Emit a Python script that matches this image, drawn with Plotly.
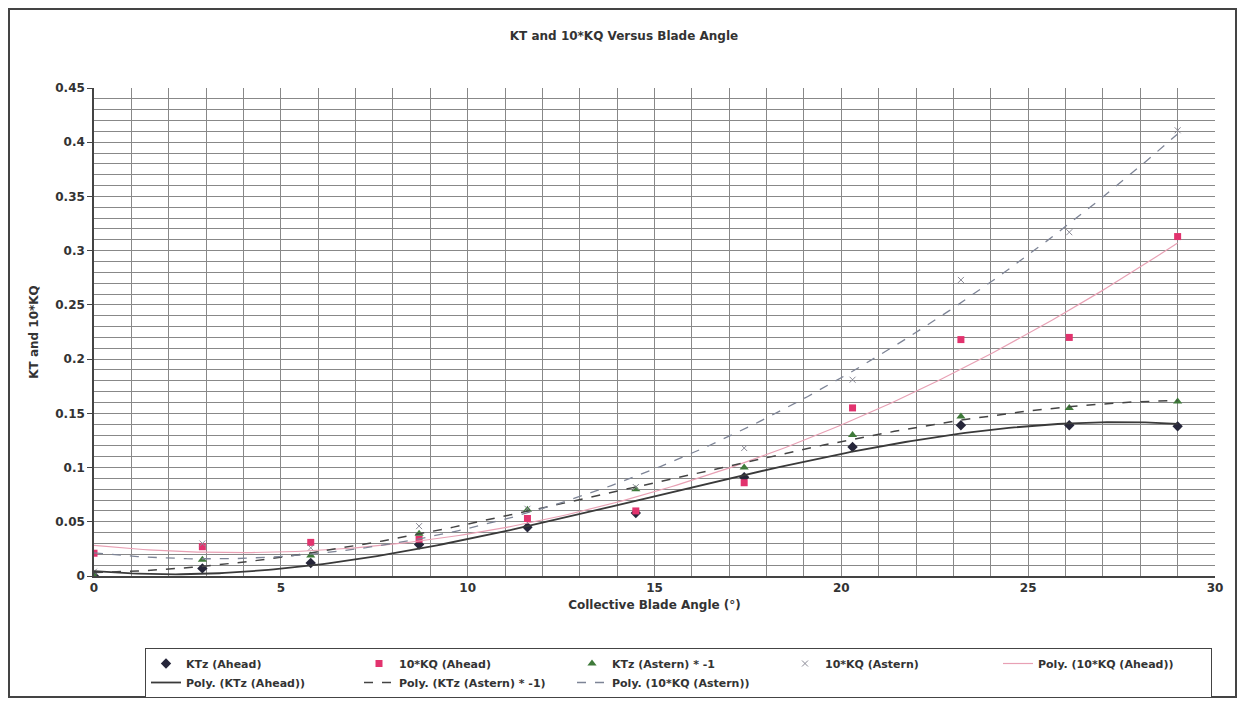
import numpy as np
import plotly.graph_objects as go

# ---- data ----
blade_angle = [0, 2.9, 5.8, 8.7, 11.6, 14.5, 17.4, 20.3, 23.2, 26.1, 29.0]
ktz_ahead = [0.000, 0.007, 0.012, 0.029, 0.045, 0.058, 0.091, 0.119, 0.139, 0.139, 0.138]
kq10_ahead = [0.021, 0.027, 0.031, 0.034, 0.053, 0.060, 0.086, 0.155, 0.218, 0.220, 0.313]
ktz_astern = [0.000, 0.015, 0.019, 0.039, 0.061, 0.080, 0.100, 0.130, 0.147, 0.155, 0.161]
kq10_astern = [0.004, 0.030, 0.026, 0.046, 0.062, 0.082, 0.118, 0.181, 0.273, 0.317, 0.411]

x_ticks = [0, 5, 10, 15, 20, 25, 30]
y_ticks = [0, 0.05, 0.1, 0.15, 0.2, 0.25, 0.3, 0.35, 0.4, 0.45]
y_tick_text = ["0", "0.05", "0.1", "0.15", "0.2", "0.25", "0.3", "0.35", "0.4", "0.45"]

FONT = "DejaVu Sans, Liberation Sans, sans-serif"
TXT = "#333333"

# figure geometry (page has an 8px body margin)
W, H = 1229, 690
L, R, T, B = 86, 22, 80, 122
PW, PH = W - L - R, H - T - B

fig = go.Figure()

# markers
fig.add_trace(go.Scatter(x=blade_angle, y=ktz_ahead, mode="markers", name="KTz (Ahead)",
                         marker=dict(symbol="diamond", size=8, color="#26263a")))
fig.add_trace(go.Scatter(x=blade_angle, y=kq10_ahead, mode="markers", name="10*KQ (Ahead)",
                         marker=dict(symbol="square", size=7, color="#e2336e")))
fig.add_trace(go.Scatter(x=blade_angle, y=ktz_astern, mode="markers", name="KTz (Astern) * -1",
                         marker=dict(symbol="triangle-up", size=8, color="#3f7a3a")))
fig.add_trace(go.Scatter(x=blade_angle, y=kq10_astern, mode="markers", name="10*KQ (Astern)",
                         marker=dict(symbol="x-thin", size=6, color="#8a8a96",
                                     line=dict(width=1, color="#8a8a96"))))

# polynomial trendlines (fitted from the data)
xs = np.linspace(0, 29, 200)
def poly(y, deg):
    c = np.polyfit(blade_angle, y, deg)
    return np.polyval(c, xs)

fig.add_trace(go.Scatter(x=xs, y=poly(kq10_ahead, 2), mode="lines", name="Poly. (10*KQ (Ahead))",
                         line=dict(color="#e8a0b4", width=1.2)))
fig.add_trace(go.Scatter(x=xs, y=poly(ktz_ahead, 3), mode="lines", name="Poly. (KTz (Ahead))",
                         line=dict(color="#3a3a3a", width=1.8)))
fig.add_trace(go.Scatter(x=xs, y=poly(ktz_astern, 3), mode="lines", name="Poly. (KTz (Astern) * -1)",
                         line=dict(color="#444444", width=1.5, dash="dash")))
fig.add_trace(go.Scatter(x=xs, y=poly(kq10_astern, 2), mode="lines", name="Poly. (10*KQ (Astern))",
                         line=dict(color="#7d8496", width=1.3, dash="dash")))

grid_col = "#888888"
fig.update_xaxes(range=[0, 30], tickvals=x_ticks, showgrid=True, gridcolor=grid_col, gridwidth=1,
                 minor=dict(dtick=1, showgrid=True, gridcolor=grid_col, gridwidth=1),
                 showline=True, linecolor="#444", linewidth=1.5, zeroline=False,
                 ticks="", tickfont=dict(family=FONT, size=12, color=TXT, weight="bold"),
                 automargin=False,
                 title=dict(text="Collective Blade Angle (°)",
                            font=dict(family=FONT, size=12, color=TXT, weight="bold"), standoff=6))
fig.update_yaxes(range=[0, 0.45], tickvals=y_ticks, ticktext=y_tick_text, showgrid=True,
                 gridcolor=grid_col, gridwidth=1,
                 minor=dict(dtick=0.01, showgrid=True, gridcolor=grid_col, gridwidth=1),
                 showline=True, linecolor="#444", linewidth=1.5, zeroline=False,
                 ticks="outside", ticklen=5, tickcolor="#444",
                 tickfont=dict(family=FONT, size=12, color=TXT, weight="bold"),
                 automargin=False,
                 title=dict(text="KT and 10*KQ",
                            font=dict(family=FONT, size=12, color=TXT, weight="bold"), standoff=14))

fig.update_layout(
    width=W, height=H,
    margin=dict(l=L, r=R, t=T, b=B, autoexpand=False),
    paper_bgcolor="white", plot_bgcolor="white",
    title=dict(text="KT and 10*KQ Versus Blade Angle", x=(624 - 8) / W, xanchor="center",
               yref="container", y=1 - 28 / H, yanchor="middle",
               font=dict(family=FONT, size=12, color=TXT, weight="bold")),
    legend=dict(orientation="h", xref="container", x=137 / W, xanchor="left",
                yref="container", y=1 - 640 / H, yanchor="top",
                bordercolor="#444", borderwidth=1, bgcolor="white",
                font=dict(family=FONT, size=11, color=TXT, weight="bold"),
                entrywidth=168, itemwidth=30, tracegroupgap=0),
    showlegend=True,
)

# outer chart frame
fig.add_shape(type="rect", xref="paper", yref="paper",
              x0=(1 - L) / PW, x1=(W - 1 - L) / PW,
              y0=(T + PH - (H - 1)) / PH, y1=(T + PH - 1) / PH,
              line=dict(color="#444", width=2), fillcolor="rgba(0,0,0,0)", layer="below")

fig.write_html("out.html")
